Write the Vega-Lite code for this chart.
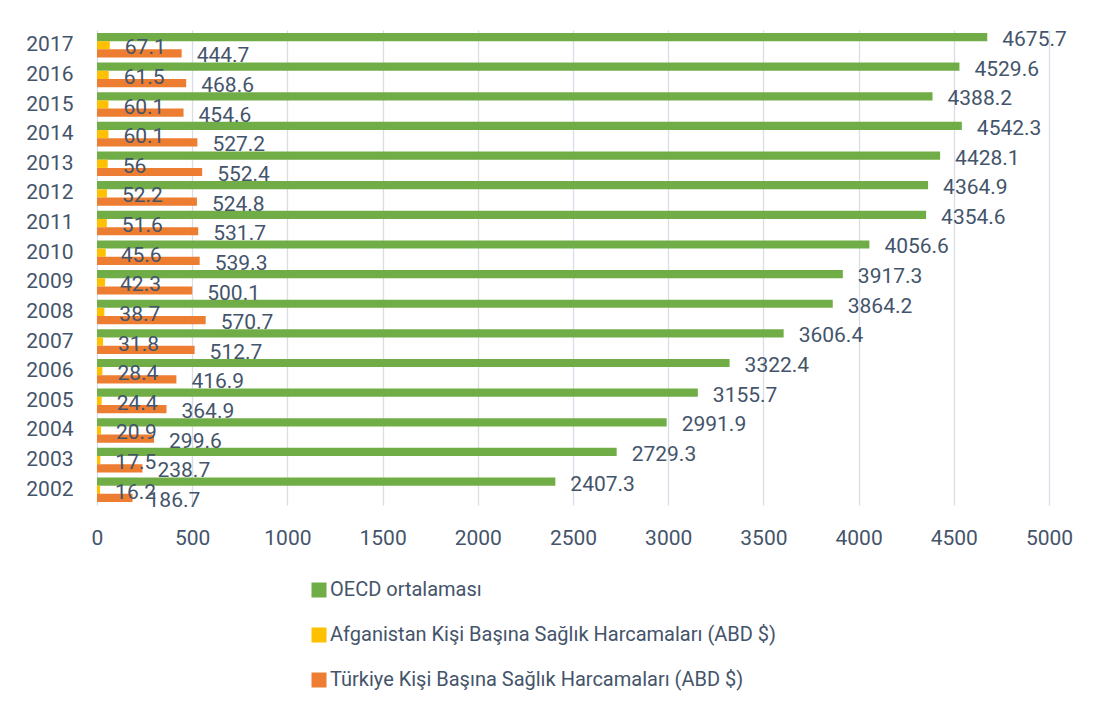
{
  "$schema": "https://vega.github.io/schema/vega-lite/v6.json",
  "width": 952,
  "height": 475,
  "autosize": "none",
  "padding": {"left": 97, "top": 30, "right": 56, "bottom": 210},
  "background": "white",
  "config": {
    "view": {"stroke": null},
    "font": "Roboto",
    "axis": {"labelFont": "Roboto", "labelColor": "#44546A", "labelFontSize": 21},
    "legend": {"labelFont": "Roboto", "labelColor": "#44546A"}
  },
  "data": {
    "values": [
      {"year": "2017", "series": "OECD ortalaması", "value": 4675.7},
      {"year": "2017", "series": "Afganistan Kişi Başına Sağlık Harcamaları (ABD $)", "value": 67.1},
      {"year": "2017", "series": "Türkiye Kişi Başına Sağlık Harcamaları (ABD $)", "value": 444.7},
      {"year": "2016", "series": "OECD ortalaması", "value": 4529.6},
      {"year": "2016", "series": "Afganistan Kişi Başına Sağlık Harcamaları (ABD $)", "value": 61.5},
      {"year": "2016", "series": "Türkiye Kişi Başına Sağlık Harcamaları (ABD $)", "value": 468.6},
      {"year": "2015", "series": "OECD ortalaması", "value": 4388.2},
      {"year": "2015", "series": "Afganistan Kişi Başına Sağlık Harcamaları (ABD $)", "value": 60.1},
      {"year": "2015", "series": "Türkiye Kişi Başına Sağlık Harcamaları (ABD $)", "value": 454.6},
      {"year": "2014", "series": "OECD ortalaması", "value": 4542.3},
      {"year": "2014", "series": "Afganistan Kişi Başına Sağlık Harcamaları (ABD $)", "value": 60.1},
      {"year": "2014", "series": "Türkiye Kişi Başına Sağlık Harcamaları (ABD $)", "value": 527.2},
      {"year": "2013", "series": "OECD ortalaması", "value": 4428.1},
      {"year": "2013", "series": "Afganistan Kişi Başına Sağlık Harcamaları (ABD $)", "value": 56},
      {"year": "2013", "series": "Türkiye Kişi Başına Sağlık Harcamaları (ABD $)", "value": 552.4},
      {"year": "2012", "series": "OECD ortalaması", "value": 4364.9},
      {"year": "2012", "series": "Afganistan Kişi Başına Sağlık Harcamaları (ABD $)", "value": 52.2},
      {"year": "2012", "series": "Türkiye Kişi Başına Sağlık Harcamaları (ABD $)", "value": 524.8},
      {"year": "2011", "series": "OECD ortalaması", "value": 4354.6},
      {"year": "2011", "series": "Afganistan Kişi Başına Sağlık Harcamaları (ABD $)", "value": 51.6},
      {"year": "2011", "series": "Türkiye Kişi Başına Sağlık Harcamaları (ABD $)", "value": 531.7},
      {"year": "2010", "series": "OECD ortalaması", "value": 4056.6},
      {"year": "2010", "series": "Afganistan Kişi Başına Sağlık Harcamaları (ABD $)", "value": 45.6},
      {"year": "2010", "series": "Türkiye Kişi Başına Sağlık Harcamaları (ABD $)", "value": 539.3},
      {"year": "2009", "series": "OECD ortalaması", "value": 3917.3},
      {"year": "2009", "series": "Afganistan Kişi Başına Sağlık Harcamaları (ABD $)", "value": 42.3},
      {"year": "2009", "series": "Türkiye Kişi Başına Sağlık Harcamaları (ABD $)", "value": 500.1},
      {"year": "2008", "series": "OECD ortalaması", "value": 3864.2},
      {"year": "2008", "series": "Afganistan Kişi Başına Sağlık Harcamaları (ABD $)", "value": 38.7},
      {"year": "2008", "series": "Türkiye Kişi Başına Sağlık Harcamaları (ABD $)", "value": 570.7},
      {"year": "2007", "series": "OECD ortalaması", "value": 3606.4},
      {"year": "2007", "series": "Afganistan Kişi Başına Sağlık Harcamaları (ABD $)", "value": 31.8},
      {"year": "2007", "series": "Türkiye Kişi Başına Sağlık Harcamaları (ABD $)", "value": 512.7},
      {"year": "2006", "series": "OECD ortalaması", "value": 3322.4},
      {"year": "2006", "series": "Afganistan Kişi Başına Sağlık Harcamaları (ABD $)", "value": 28.4},
      {"year": "2006", "series": "Türkiye Kişi Başına Sağlık Harcamaları (ABD $)", "value": 416.9},
      {"year": "2005", "series": "OECD ortalaması", "value": 3155.7},
      {"year": "2005", "series": "Afganistan Kişi Başına Sağlık Harcamaları (ABD $)", "value": 24.4},
      {"year": "2005", "series": "Türkiye Kişi Başına Sağlık Harcamaları (ABD $)", "value": 364.9},
      {"year": "2004", "series": "OECD ortalaması", "value": 2991.9},
      {"year": "2004", "series": "Afganistan Kişi Başına Sağlık Harcamaları (ABD $)", "value": 20.9},
      {"year": "2004", "series": "Türkiye Kişi Başına Sağlık Harcamaları (ABD $)", "value": 299.6},
      {"year": "2003", "series": "OECD ortalaması", "value": 2729.3},
      {"year": "2003", "series": "Afganistan Kişi Başına Sağlık Harcamaları (ABD $)", "value": 17.5},
      {"year": "2003", "series": "Türkiye Kişi Başına Sağlık Harcamaları (ABD $)", "value": 238.7},
      {"year": "2002", "series": "OECD ortalaması", "value": 2407.3},
      {"year": "2002", "series": "Afganistan Kişi Başına Sağlık Harcamaları (ABD $)", "value": 16.2},
      {"year": "2002", "series": "Türkiye Kişi Başına Sağlık Harcamaları (ABD $)", "value": 186.7}
    ]
  },
  "encoding": {
    "y": {
      "field": "year",
      "type": "ordinal",
      "sort": "descending",
      "title": null,
      "scale": {"paddingInner": 0.17, "paddingOuter": 0.1},
      "axis": {"domain": false, "ticks": false, "grid": false, "labelPadding": 24}
    },
    "yOffset": {
      "field": "series",
      "type": "nominal",
      "sort": ["OECD ortalaması", "Afganistan Kişi Başına Sağlık Harcamaları (ABD $)", "Türkiye Kişi Başına Sağlık Harcamaları (ABD $)"],
      "scale": {"paddingInner": 0, "paddingOuter": 0}
    },
    "x": {
      "field": "value",
      "type": "quantitative",
      "title": null,
      "scale": {"domain": [0, 5000], "nice": false},
      "axis": {
        "values": [0, 500, 1000, 1500, 2000, 2500, 3000, 3500, 4000, 4500, 5000],
        "format": "d",
        "domain": false,
        "ticks": false,
        "grid": true,
        "gridColor": "#D9DEE6",
        "gridWidth": 1.3,
        "labelFlush": false,
        "labelPadding": 22
      }
    }
  },
  "layer": [
    {
      "mark": {"type": "bar"},
      "encoding": {
        "color": {
          "field": "series",
          "type": "nominal",
          "title": null,
          "scale": {
            "domain": ["OECD ortalaması", "Afganistan Kişi Başına Sağlık Harcamaları (ABD $)", "Türkiye Kişi Başına Sağlık Harcamaları (ABD $)"],
            "range": ["#70AD47", "#FFC000", "#ED7D31"]
          },
          "legend": {
            "orient": "none",
            "legendX": 212,
            "legendY": 550,
            "direction": "vertical",
            "symbolType": "square",
            "symbolSize": 225,
            "symbolStrokeWidth": 0,
            "labelFontSize": 20,
            "labelOffset": 1,
            "rowPadding": 25,
            "labelLimit": 700
          }
        }
      }
    },
    {
      "mark": {"type": "text", "align": "left", "baseline": "middle", "dx": 15, "dy": 3, "fontSize": 21, "color": "#44546A", "font": "Roboto"},
      "encoding": {
        "text": {"field": "value", "type": "quantitative", "format": ".1~f"}
      }
    }
  ]
}
